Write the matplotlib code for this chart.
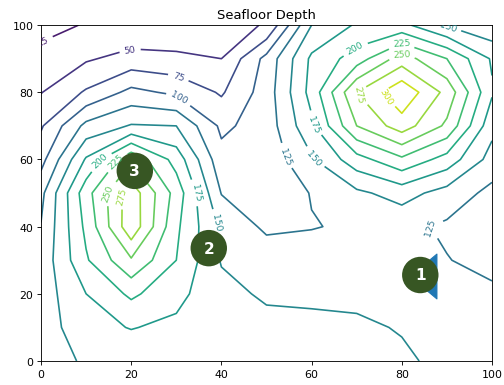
import numpy as np
import matplotlib
matplotlib.use("Agg")
import matplotlib.pyplot as plt
from matplotlib.path import Path

# grid coordinates
x_vals = [0, 10, 20, 30, 40, 50, 60, 70, 80, 90, 100]
y_vals = [0, 10, 20, 30, 40, 50, 60, 70, 80, 90, 100]

# depth values, one row per y (bottom to top)
depth_y0 = [135, 154, 160, 162, 162, 160, 158, 156, 155, 142, 135]
depth_y10 = [135, 168, 176, 170, 165, 158, 155, 155, 148, 140, 132]
depth_y20 = [136, 175, 205, 182, 158, 146, 146, 143, 140, 133, 130]
depth_y30 = [133, 197, 247, 200, 148, 140, 135, 135, 132, 126, 117]
depth_y40 = [126, 206, 293, 205, 145, 120, 124, 128, 132, 121, 112]
depth_y50 = [118, 215, 290, 215, 124, 110, 126, 145, 160, 140, 118]
depth_y60 = [91, 178, 245, 190, 108, 108, 147, 190, 220, 190, 140]
depth_y70 = [72, 132, 152, 150, 95, 111, 170, 250, 288, 245, 158]
depth_y80 = [49, 78, 107, 95, 72, 112, 184, 275, 320, 267, 178]
depth_y90 = [35, 47, 59, 55, 50, 108, 180, 212, 262, 225, 172]
depth_y100 = [15, 27, 28, 32, 45, 51, 150, 178, 182, 148, 130]

levels = [0, 25, 50, 75, 100, 125, 150, 175, 200, 225, 250, 275, 300, 325]

# approximate spots where the contour labels sit
label_spots = [(0, 96.5), (19.7, 92.9), (30.1, 83.4), (30.1, 77.5),
               (54.5, 61.1), (60.8, 60.7), (60.4, 70.6),
               (70, 92.4), (80, 94.3), (80, 91.4), (70.5, 79.5), (77, 79.5),
               (90, 98.5), (84, 40), (34.5, 50.2), (39, 41.3),
               (13.1, 59.6), (16.5, 59.6), (14.6, 50.3), (17.5, 49.2)]

# annotated sites
site_labels = ["1", "2", "3"]
site_x = [84.1, 37.2, 20.8]
site_y = [25.6, 33.6, 56.6]
tri_x = [82.6]
tri_y = [25.2]

Z = np.array([depth_y0, depth_y10, depth_y20, depth_y30, depth_y40, depth_y50,
              depth_y60, depth_y70, depth_y80, depth_y90, depth_y100], dtype=float)
X, Y = np.meshgrid(x_vals, y_vals)

fig = plt.figure(figsize=(6.4, 4.9), dpi=78.75)
ax = fig.add_axes([41 / 504, 1 - 362 / 386, (492 - 41) / 504, (362 - 26) / 386])
cs = ax.contour(X, Y, Z, levels=levels, cmap="viridis", vmin=0, vmax=325)
ax.clabel(cs, inline=True, fontsize=8.5, fmt="%d", manual=label_spots)

tri_marker = Path([(-0.2, 0), (1, 1), (1, -1), (-0.2, 0)],
                  [Path.MOVETO, Path.LINETO, Path.LINETO, Path.CLOSEPOLY])
ax.plot(tri_x, tri_y, marker=tri_marker, color="tab:blue", markersize=41,
        linestyle="none")
for lab, sx, sy in zip(site_labels, site_x, site_y):
    ax.text(sx, sy, lab, ha="center", va="center", color="white",
            fontsize=14, fontweight="bold",
            bbox=dict(boxstyle="circle,pad=0.7", fc="#375623", ec="none"))

ax.set_xlim(0, 100)
ax.set_ylim(0, 100)
ax.set_title("Seafloor Depth")
fig.savefig("out.png", dpi=78.75)
